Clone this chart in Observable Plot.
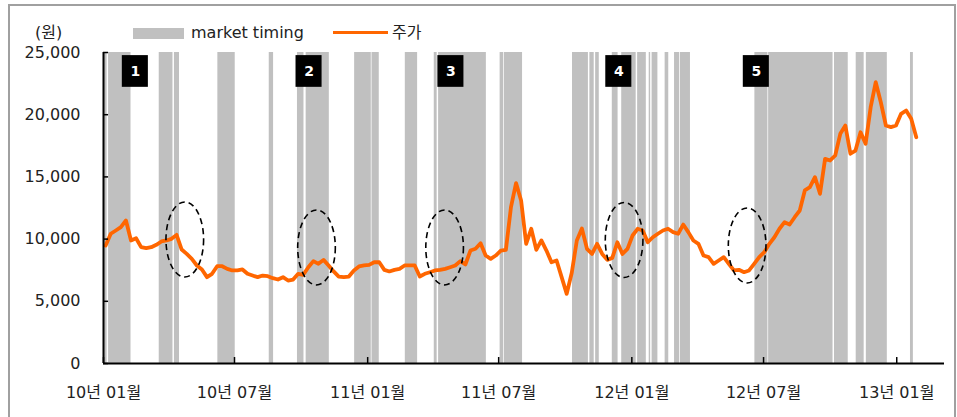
<!DOCTYPE html>
<html>
<head>
<meta charset="utf-8">
<script src="https://cdn.jsdelivr.net/npm/d3@7"></script>
<script src="https://cdn.jsdelivr.net/npm/@observablehq/plot@0.6"></script>
<style>
  html, body { margin: 0; padding: 0; background: #fff; }
  #wrap { position: relative; width: 957px; height: 417px; overflow: hidden; background: #fff;
          font-family: 'DejaVu Sans', 'Noto Sans CJK KR', sans-serif; color: #222; }
  #frame { position: absolute; left: 8px; top: 4px; width: 948px; height: 430px;
           border: 2px solid #a0a0a0; box-sizing: border-box; }
  #chart { position: absolute; left: 0; top: 0; }
  .lg { position: absolute; font-size: 16px; line-height: 18px; white-space: nowrap; }
</style>
</head>
<body>
<div id="wrap">
  <div id="frame"></div>
  <div id="chart"></div>
  <div class="lg" style="left:35px;top:24px;">(원)</div>
  <div style="position:absolute;left:133px;top:28px;width:51px;height:11px;background:#c0c0c0;"></div>
  <div class="lg" style="left:191px;top:24px;">market timing</div>
  <div style="position:absolute;left:333px;top:31px;width:55px;height:3px;background:#ff6600;"></div>
  <div class="lg" style="left:392px;top:24px;">주가</div>
</div>
<script>
// ---- data ----
const weekStart = "2010-01-04"; // first weekly observation
const prices = [
  9490,10430,10690,10960,11500,9890,10070,9350,9270,9350,
  9540,9810,9890,10020,10340,9160,8810,8410,7880,7560,
  6940,7210,7820,7820,7610,7480,7480,7560,7210,7070,
  6940,7070,7020,6860,6750,6940,6670,6750,7210,7130,
  7740,8230,8010,8330,7880,7400,6990,6940,6990,7480,
  7800,7880,7930,8140,8140,7530,7400,7530,7610,7880,
  7880,7880,6990,7210,7340,7480,7530,7610,7740,7880,
  8230,7960,9080,9220,9670,8680,8410,8680,9080,9140,
  12570,14500,13100,9620,10830,9140,9890,9080,8140,8280,
  6940,5600,7300,9890,10850,9220,8810,9620,8810,8330,
  8490,9750,8810,9220,10290,10830,10690,9750,10150,10430,
  10690,10830,10560,10430,11170,10560,9890,9620,8680,8550,
  8010,8280,8550,8010,7480,7530,7340,7480,8010,8550,
  8950,9620,10150,10830,11360,11170,11760,12300,13910,14170,
  14980,13640,16450,16320,16720,18460,19130,16860,17120,18590,
  17660,20600,22610,21000,19130,19000,19130,20070,20340,19670,
  18190
];
const bandStarts = ["2010-01-01","2010-01-08","2010-03-19","2010-04-09","2010-06-08","2010-08-18","2010-09-26","2010-10-08",
  "2010-12-14","2011-01-07","2011-02-22","2011-04-03","2011-04-09","2011-07-03","2011-07-09","2011-10-11",
  "2011-11-04","2011-11-12","2011-12-05","2011-12-18","2012-01-09","2012-01-25","2012-01-29","2012-02-16",
  "2012-02-29","2012-03-08","2012-06-19","2012-07-08","2012-10-07","2012-11-06","2012-11-20","2013-01-20"];
const bandEnds = ["2010-01-06","2010-02-08","2010-04-07","2010-04-16","2010-07-02","2010-08-24","2010-10-05","2010-11-09",
  "2011-01-06","2011-01-17","2011-03-11","2011-04-07","2011-06-14","2011-07-08","2011-08-03","2011-11-02",
  "2011-11-10","2011-11-17","2011-12-13","2012-01-07","2012-01-21","2012-01-27","2012-02-06","2012-02-21",
  "2012-03-07","2012-03-22","2012-07-07","2012-10-05","2012-10-26","2012-11-17","2012-12-19","2013-01-24"];
const labelTexts = ["1","2","3","4","5"];
const labelDates = ["2010-02-14","2010-10-12","2011-04-26","2011-12-14","2012-06-21"];
const ellipseDates = ["2010-04-24","2010-10-23","2011-04-18","2011-12-22","2012-06-09"];
const ellipseValues = [9930,9290,9290,9890,9450];
const xTicks = ["2010-01-01","2010-07-01","2011-01-01","2011-07-01","2012-01-01","2012-07-01","2013-01-01"];
const xTickLabels = ["10년 01월","10년 07월","11년 01월","11년 07월","12년 01월","12년 07월","13년 01월"];
const yTicks = [0,5000,10000,15000,20000,25000];
const yTickLabels = ["0","5,000","10,000","15,000","20,000","25,000"];
const xDomain = ["2010-01-01","2013-03-08"];

// ---- build tables ----
const D = s => new Date(s);
const t0 = D(weekStart);
const priceData = prices.map((v, i) => ({date: d3.utcDay.offset(t0, 7 * i), price: v}));
const bands = bandStarts.map((s, i) => ({start: D(s), end: D(bandEnds[i])}));
const labels = labelTexts.map((t, i) => ({text: t, date: D(labelDates[i])}));
const xTickDates = xTicks.map(D);
const xStart = D(xDomain[0]);

const plot = Plot.plot({
  width: 957,
  height: 417,
  marginLeft: 103,
  marginRight: 13,
  marginTop: 52,
  marginBottom: 54,
  style: {fontFamily: "'DejaVu Sans','Noto Sans CJK KR',sans-serif", fontSize: "16px", color: "#222", background: "transparent", overflow: "visible"},
  x: {type: "utc", domain: xDomain.map(D)},
  y: {domain: [0, 25000]},
  marks: [
    Plot.rect(bands, {x1: "start", x2: "end", y1: 0, y2: 25000, fill: "#c0c0c0"}),
    Plot.line(priceData, {x: "date", y: "price", stroke: "#ff6600", strokeWidth: 3.8, strokeLinejoin: "round", strokeLinecap: "round"}),
    Plot.rect(labels, {x1: d => d3.utcDay.offset(d.date, -18), x2: d => d3.utcDay.offset(d.date, 18), y1: 22200, y2: 24750, fill: "#000"}),
    Plot.text(labels, {x: "date", y: 23475, text: "text", fill: "#fff", fontWeight: "bold", fontSize: 14}),
    Plot.ruleY(yTicks, {x1: xStart, x2: d3.utcDay.offset(xStart, 7), stroke: "#000", strokeWidth: 1.5}),
    Plot.ruleX(xTickDates, {y1: 0, y2: 480, stroke: "#000", strokeWidth: 1.5}),
    Plot.ruleX([xStart], {stroke: "#000", strokeWidth: 2}),
    Plot.ruleY([0], {stroke: "#000", strokeWidth: 2}),
    Plot.axisY({ticks: yTicks, tickSize: 0, tickPadding: 23, tickFormat: d => yTickLabels[yTicks.indexOf(d)], label: null, fill: "#222"}),
    Plot.axisX({ticks: xTickDates, tickSize: 0, tickPadding: 23, tickFormat: d => xTickLabels[xTickDates.findIndex(t => +t === +d)], label: null, fill: "#222"})
  ]
});

// dashed ellipses positioned through the plot's scales
const sx = plot.scale("x"), sy = plot.scale("y");
const g = d3.select(plot).append("g");
ellipseDates.forEach((s, i) => {
  const c = D(s);
  const cx = sx.apply(c);
  const rx = sx.apply(d3.utcDay.offset(c, 26)) - cx;
  const cy = sy.apply(ellipseValues[i]);
  const ry = sy.apply(ellipseValues[i] - 3015) - cy;
  g.append("ellipse").attr("cx", cx).attr("cy", cy).attr("rx", rx).attr("ry", ry)
    .attr("fill", "none").attr("stroke", "#000").attr("stroke-width", 1.6).attr("stroke-dasharray", "6,4");
});

document.getElementById("chart").appendChild(plot);
</script>
</body>
</html>
